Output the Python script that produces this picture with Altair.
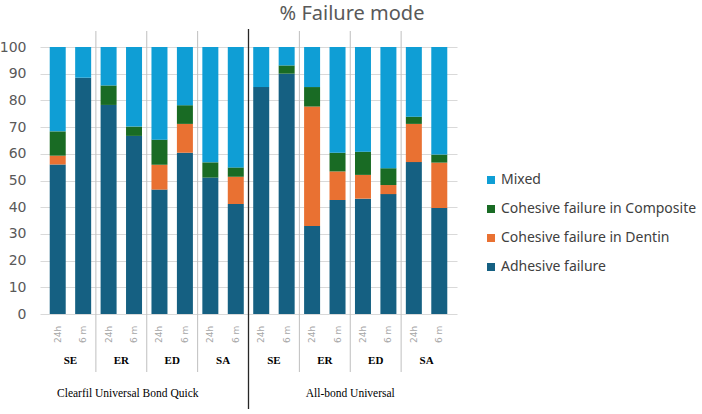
import altair as alt
import pandas as pd

# ---- data ----
time_labels = ["24h", "6 m"] * 8
protocols = ["SE", "ER", "ED", "SA"]
adhesive_systems = ["Clearfil Universal Bond Quick", "All-bond Universal"]
modes = ["Adhesive failure", "Cohesive failure in Dentin", "Cohesive failure in Composite", "Mixed"]

adhesive_fail = [56.0, 88.5, 78.3, 66.7, 46.6, 60.4, 51.1, 41.2, 85.0, 90.0, 33.0, 42.7, 43.2, 44.9, 56.9, 39.7]
coh_dentin = [3.3, 0, 0, 0, 9.3, 10.8, 0, 10.2, 0, 0, 44.7, 10.7, 8.9, 3.4, 14.3, 17.0]
coh_composite = [9.1, 0, 7.3, 3.5, 9.4, 7.0, 5.7, 3.5, 0, 3.1, 7.3, 7.0, 8.7, 6.3, 2.7, 3.0]
mixed = [31.6, 11.5, 14.4, 29.8, 34.7, 21.8, 43.2, 45.1, 15.0, 6.9, 15.0, 39.6, 39.2, 45.4, 26.1, 40.3]

colors = {"Mixed": "#0F9ED5", "Cohesive failure in Composite": "#196B24",
          "Cohesive failure in Dentin": "#E97132", "Adhesive failure": "#156082"}

# ---- tables ----
rows = []
for i in range(16):
    for k, (m, vals) in enumerate(zip(modes, [adhesive_fail, coh_dentin, coh_composite, mixed])):
        rows.append({"idx": i, "mode": m, "value": vals[i], "ord": k})
bars_df = pd.DataFrame(rows)

time_df = pd.DataFrame({"idx": list(range(16)), "label": time_labels})
proto_df = pd.DataFrame({"idx": [2 * g + 0.5 for g in range(8)], "label": protocols * 2})
minor_sep = pd.DataFrame({"x": [2 * g - 0.5 for g in range(1, 8) if g != 4]})
major_sep = pd.DataFrame({"x": [7.5]})
sys1_df = pd.DataFrame({"x": [3.5], "label": [adhesive_systems[0]]})
sys2_df = pd.DataFrame({"x": [11.5], "label": [adhesive_systems[1]]})
title_df = pd.DataFrame({"label": ["% Failure mode"]})

W, H = 417, 267
TOP, LEFT = 47, 40

xscale = alt.Scale(domain=[-0.5, 15.5], nice=False, zero=False)
legend_order = ["Mixed", "Cohesive failure in Composite", "Cohesive failure in Dentin", "Adhesive failure"]


def X(field):
    return alt.X(field, scale=xscale, axis=None)


bars = alt.Chart(bars_df).mark_bar(size=16).encode(
    x=X("idx:Q"),
    y=alt.Y("value:Q", stack="zero",
            scale=alt.Scale(domain=[0, 100], nice=False),
            axis=alt.Axis(values=list(range(0, 101, 10)), title=None, domain=False, ticks=False,
                          labelFontSize=14, labelColor="#595959", labelPadding=14,
                          labelFont="DejaVu Sans",
                          gridColor="#D9D9D9", gridWidth=1)),
    color=alt.Color("mode:N",
                    scale=alt.Scale(domain=legend_order, range=[colors[m] for m in legend_order]),
                    legend=alt.Legend(title=None, orient="none", legendX=444, legendY=126,
                                      symbolType="square", symbolSize=64, symbolStrokeWidth=0,
                                      labelFontSize=14, labelFont="Noto Sans", labelColor="#404040",
                                      rowPadding=15, labelOffset=3, labelLimit=300)),
    order=alt.Order("ord:Q", sort="ascending"),
)

time_text = alt.Chart(time_df).mark_text(angle=270, align="left", baseline="middle",
                                         fontSize=9, font="DejaVu Sans", color="#A6A6A6").encode(
    x=X("idx:Q"), y=alt.value(343 - TOP), text="label:N")

proto_text = alt.Chart(proto_df).mark_text(baseline="middle", fontSize=11, font="Liberation Serif",
                                           fontWeight="bold", color="#000000").encode(
    x=X("idx:Q"), y=alt.value(361 - TOP), text="label:N")

minor_rules = alt.Chart(minor_sep).mark_rule(color="#BFBFBF", strokeWidth=1).encode(
    x=X("x:Q"), y=alt.value(31 - TOP), y2=alt.value(372 - TOP))

major_rules = alt.Chart(major_sep).mark_rule(color="#262626", strokeWidth=1.3).encode(
    x=X("x:Q"), y=alt.value(29 - TOP), y2=alt.value(409 - TOP))

sys1 = alt.Chart(sys1_df).mark_text(baseline="middle", fontSize=11.5, font="Liberation Serif",
                                    color="#000000", dx=-19).encode(
    x=X("x:Q"), y=alt.value(394 - TOP), text="label:N")
sys2 = alt.Chart(sys2_df).mark_text(baseline="middle", fontSize=11.5, font="Liberation Serif",
                                    color="#000000").encode(
    x=X("x:Q"), y=alt.value(394 - TOP), text="label:N")

title = alt.Chart(title_df).mark_text(baseline="alphabetic", fontSize=20, font="Noto Sans",
                                      color="#595959").encode(
    x=alt.value(352 - LEFT), y=alt.value(20 - TOP), text="label:N")

chart = alt.layer(minor_rules, bars, major_rules, time_text, proto_text, sys1, sys2, title).properties(
    width=W, height=H,
    background="white",
    autosize=alt.AutoSizeParams(type="none"),
    padding={"left": LEFT, "top": TOP, "right": 702 - LEFT - W, "bottom": 414 - TOP - H},
).configure_view(stroke=None)

chart.save("out.html", embed_options={"renderer": "svg", "actions": False})
